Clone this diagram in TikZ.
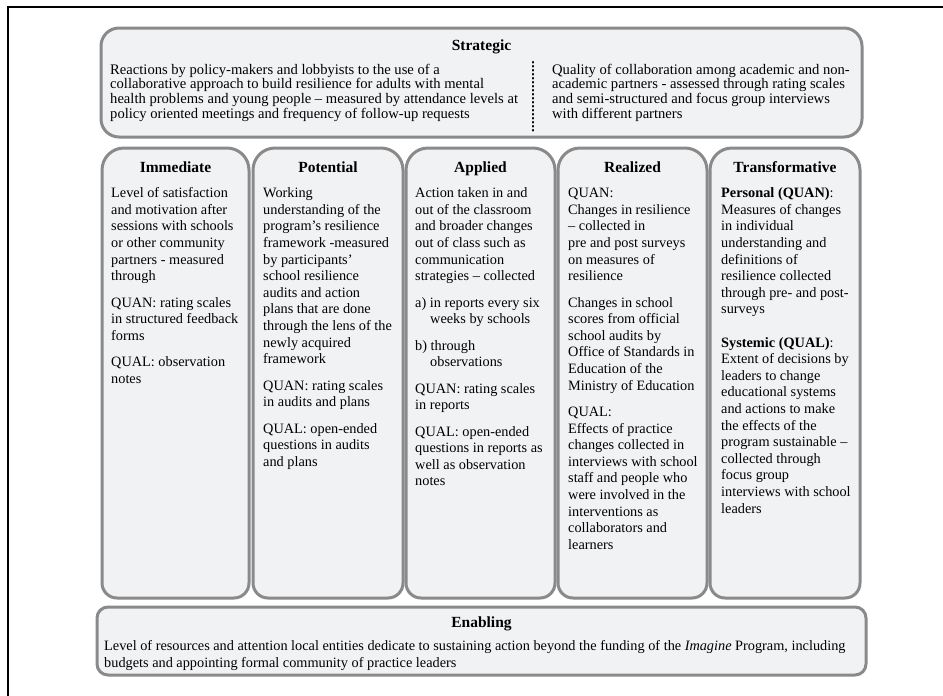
\documentclass[tikz,border=0pt]{standalone}
\usepackage{fontspec}
\setmainfont{Liberation Serif}
\definecolor{boxgray}{HTML}{8A8A8A}
\definecolor{boxfill}{HTML}{F1F2F4}
\tikzset{
  boxline/.style={draw=boxgray, line width=3pt, fill=boxfill},
  txt/.style={anchor=north west, inner sep=0pt, align=left, font=\fontsize{14.3}{16.6}\selectfont},
  stxt/.style={txt, font=\fontsize{14.6}{14.6}\selectfont},
  etxt/.style={txt, font=\fontsize{14.3}{16.3}\selectfont},
  ttl/.style={anchor=base, inner sep=0pt, font=\fontsize{15.5}{18}\selectfont\bfseries},
  frameline/.style={draw=black, line width=2.5pt},
  dotline/.style={draw=black, line width=2.1pt, dash pattern=on 0.6pt off 3.4pt, line cap=round},
}
\newcommand\fl{\rule{0pt}{11pt}}
\newcommand\pg{\\[9.8pt]}
\newcommand\ind{\hspace*{15pt}}
\newcommand\roundcol[4]{%
  \path[boxline] (#1,#4-15) -- (#1,#2+22)
    .. controls (#1,#2+9.85) and (#1+9.85,#2) .. (#1+22,#2)
    -- (#3-22,#2)
    .. controls (#3-9.85,#2) and (#3,#2+9.85) .. (#3,#2+22)
    -- (#3,#4-15)
    .. controls (#3,#4-6.7) and (#3-6.7,#4) .. (#3-15,#4)
    -- (#1+15,#4)
    .. controls (#1+6.7,#4) and (#1,#4-6.7) .. (#1,#4-15) -- cycle;}
\begin{document}
\begin{tikzpicture}[x=1pt, y=-1pt]
\useasboundingbox (0,0) rectangle (943,696);
\fill[white] (0,0) rectangle (943,696);
% outer frame
\coordinate (fr-tl) at (8,7);
\coordinate (fr-tr) at (943,7);
\coordinate (fr-bl) at (8,696);
\draw[frameline] (fr-bl) -- (fr-tl) -- (fr-tr);

% Strategic
\draw[boxline, rounded corners=18pt] (101,28) rectangle (862,137);
\node[ttl] (strat-t) at (481.5,50) {Strategic};
\node[stxt] (strat-l) at (110,63) {\fl Reactions by policy-makers and lobbyists to the use of a\\
collaborative approach to build resilience for adults with mental\\
health problems and young people – measured by attendance levels at\\
policy oriented meetings and frequency of follow-up requests};
\node[stxt] (strat-r) at (552,63) {\fl Quality of collaboration among academic and non-\\
academic partners - assessed through rating scales\\
and semi-structured and focus group interviews\\
with different partners};
\coordinate (dot-a) at (533,62);
\coordinate (dot-b) at (533,131);
\draw[dotline] (dot-a) -- (dot-b);

% columns
\roundcol{102}{148}{249}{598}
\roundcol{253}{148}{403}{598}
\roundcol{406}{148}{555}{598}
\roundcol{558}{148}{707}{598}
\roundcol{710}{148}{860}{598}

\node[ttl] (imm-t) at (175.5,172) {Immediate};
\node[ttl] (pot-t) at (328,172) {Potential};
\node[ttl] (app-t) at (480.5,172) {Applied};
\node[ttl] (rea-t) at (632.5,172) {Realized};
\node[ttl] (tra-t) at (785,172) {Transformative};

\node[txt] (imm-x) at (111,186.5) {\fl Level of satisfaction\\
and motivation after\\
sessions with schools\\
or other community\\
partners - measured\\
through\pg
QUAN: rating scales\\
in structured feedback\\
forms\pg
QUAL: observation\\
notes};

\node[txt] (pot-x) at (263,186.5) {\fl Working\\
understanding of the\\
program’s resilience\\
framework -measured\\
by participants’\\
school resilience\\
audits and action\\
plans that are done\\
through the lens of the\\
newly acquired\\
framework\pg
QUAN: rating scales\\
in audits and plans\pg
QUAL: open-ended\\
questions in audits\\
and plans};

\node[txt] (app-x) at (415,186.5) {\fl Action taken in and\\
out of the classroom\\
and broader changes\\
out of class such as\\
communication\\
strategies – collected\pg
a) in reports every six\\
\ind weeks by schools\pg
b) through\\
\ind observations\pg
QUAN: rating scales\\
in reports\pg
QUAL: open-ended\\
questions in reports as\\
well as observation\\
notes};

\node[txt] (rea-x) at (568,186.5) {\fl QUAN:\\
Changes in resilience\\
– collected in\\
pre and post surveys\\
on measures of\\
resilience\pg
Changes in school\\
scores from official\\
school audits by\\
Office of Standards in\\
Education of the\\
Ministry of Education\pg
QUAL:\\
Effects of practice\\
changes collected in\\
interviews with school\\
staff and people who\\
were involved in the\\
interventions as\\
collaborators and\\
learners};

\node[txt] (tra-x) at (721,186.5) {\fl \textbf{Personal (QUAN)}:\\
Measures of changes\\
in individual\\
understanding and\\
definitions of\\
resilience collected\\
through pre- and post-\\
surveys\\
\strut\\
\textbf{Systemic (QUAL)}:\\
Extent of decisions by\\
leaders to change\\
educational systems\\
and actions to make\\
the effects of the\\
program sustainable –\\
collected through\\
focus group\\
interviews with school\\
leaders};

% Enabling
\draw[boxline, rounded corners=11pt] (97,607) rectangle (866,675);
\node[ttl] (ena-t) at (481.5,627) {Enabling};
\node[etxt] (ena-x) at (104,639.5) {\fl Level of resources and attention local entities dedicate to sustaining action beyond the funding of the \textit{Imagine} Program, including\\
budgets and appointing formal community of practice leaders};
\end{tikzpicture}
\end{document}
